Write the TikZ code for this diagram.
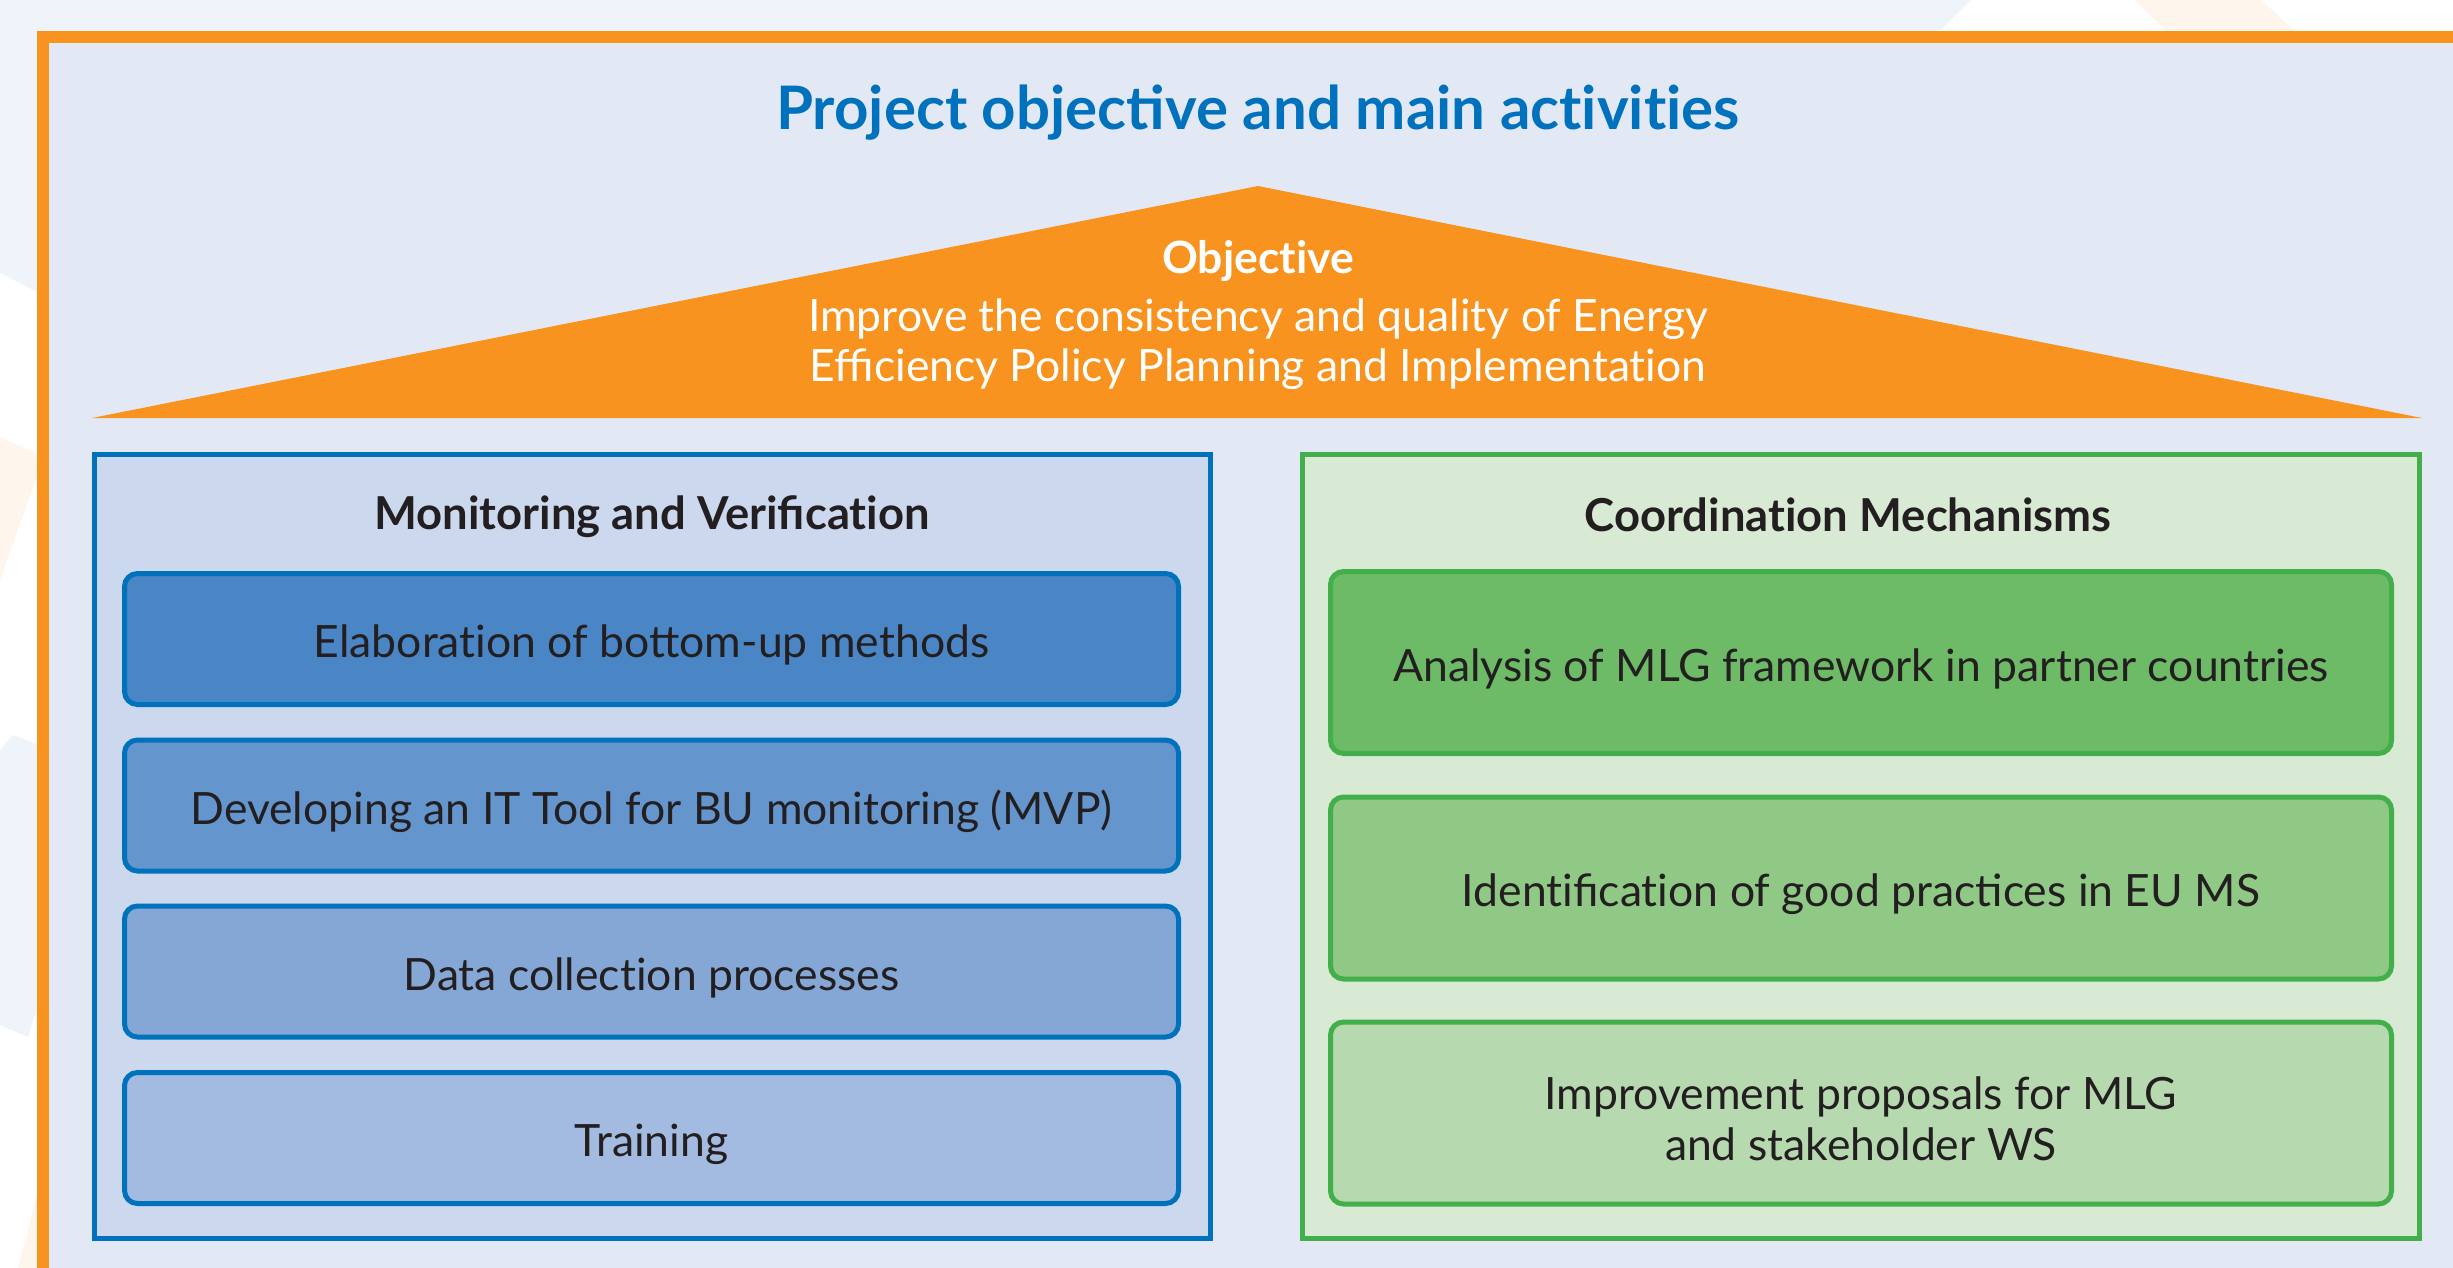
\documentclass[tikz,border=0pt]{standalone}
\usepackage{fontspec}
\setmainfont{Lato}
\newcommand{\tI}{t\kern0pt i}
\definecolor{outerbg}{HTML}{EFF3FA}
\definecolor{innerbg}{HTML}{E2E9F5}
\definecolor{faintor}{HTML}{FEF5EC}
\definecolor{framor}{HTML}{F7931E}
\definecolor{titleblue}{HTML}{0071BC}
\definecolor{mvline}{HTML}{0072BC}
\definecolor{mvfill}{HTML}{CBD8EE}
\definecolor{mvA}{HTML}{4A86C5}
\definecolor{mvB}{HTML}{6495CD}
\definecolor{mvC}{HTML}{84A7D5}
\definecolor{mvD}{HTML}{A3BBE0}
\definecolor{cmline}{HTML}{43AF4A}
\definecolor{cmfill}{HTML}{D8E9D4}
\definecolor{cmA}{HTML}{6DBA67}
\definecolor{cmB}{HTML}{90C886}
\definecolor{cmC}{HTML}{B7D9AF}
\definecolor{darktext}{HTML}{231F20}
\tikzset{
  panel/.style={draw, line width=5pt, inner sep=0pt, outer sep=0pt, rectangle},
  mvpanel/.style={panel, draw=mvline, fill=mvfill, minimum width=1116pt, minimum height=784pt},
  cmpanel/.style={panel, draw=cmline, fill=cmfill, minimum width=1117pt, minimum height=784pt},
  actbox/.style={draw, line width=5pt, rounded corners=13pt, inner sep=0pt, outer sep=0pt,
    text=darktext, align=center, font=\fontsize{44.5}{54}\selectfont},
  mvbox/.style={actbox, draw=mvline, minimum width=1054pt, minimum height=131pt},
  cmbox/.style={actbox, draw=cmline, minimum width=1061pt, minimum height=182pt},
  boxtext/.style={text=darktext, align=center, inner sep=0pt, font=\fontsize{44.5}{51}\selectfont},
  paneltitle/.style={text=darktext, font=\fontsize{45.4}{54}\selectfont\bfseries, inner sep=0pt},
  maintitle/.style={text=titleblue, font=\fontsize{60}{70}\selectfont\bfseries, inner sep=0pt},
  rooftext/.style={text=white, align=center, font=\fontsize{44.5}{50}\selectfont, inner sep=0pt}
}
\begin{document}
\begin{tikzpicture}[x=1pt,y=-1pt]
\useasboundingbox (0,0) rectangle (2453,1268);
\clip (0,0) rectangle (2453,1268);
% background and decorations
\fill[outerbg] (0,0) rectangle (2453,1268);
\fill[white] (1971,0) -- (2453,0) -- (2453,31) -- (1940,31) -- cycle;
\fill[faintor] (2135,0) -- (2261,0) -- (2295,31) -- (2166,31) -- cycle;
\fill[white] (0,273) -- (37,292) -- (37,1268) -- (0,1268) -- cycle;
\fill[faintor] (0,437) -- (37,454) -- (37,476) -- (0,580) -- cycle;
\fill[outerbg] (13,735) -- (37,744) -- (37,1008) -- (28,1037) -- (0,1025) -- (0,750) -- cycle;
\fill[faintor] (37,1195) -- (37,1268) -- (18,1268) -- cycle;
% orange frame
\fill[framor] (37,31) rectangle (2470,1290);
\fill[innerbg] (49,43) rectangle (2470,1290);
% title
\node[maintitle] (title) at (1258,113) {Project objective and main ac\tI{}vi\tI{}es};
% roof
\fill[framor] (92,418) -- (1258,186) -- (2422,418) -- cycle;
\node[rooftext, font=\fontsize{44.5}{50}\selectfont\bfseries] (obj) at (1258,261) {Objec\tI{}ve};
\node[rooftext] (objtext) at (1258,344) {Improve the consistency and quality of Energy\\Efficiency Policy Planning and Implementa\tI{}on};
% panels
\node[mvpanel] (mv) at (652,846.5) {};
\node[cmpanel] (cm) at (1861,846.5) {};
\node[paneltitle] (mvtitle) at (652,517) {Monitoring and Verifica\tI{}on};
\node[paneltitle] (cmtitle) at (1848,515) {Coordina\tI{}on Mechanisms};
% left boxes
\node[mvbox, fill=mvA] (mv1) at (651.5,639) {};
\node[mvbox, fill=mvB] (mv2) at (651.5,805.5) {};
\node[mvbox, fill=mvC] (mv3) at (651.5,971.5) {};
\node[mvbox, fill=mvD] (mv4) at (651.5,1138) {};
\node[boxtext] (mv1t) at (651.5,645) {Elabora\tI{}on of bottom-up methods};
\node[boxtext] (mv2t) at (651.5,811.5) {Developing an IT Tool for BU monitoring (MVP)};
\node[boxtext] (mv3t) at (651.5,977.5) {Data collec\tI{}on processes};
\node[boxtext] (mv4t) at (651.5,1144) {Training};
% right boxes
\node[cmbox, fill=cmA] (cm1) at (1861,662.5) {};
\node[cmbox, fill=cmB] (cm2) at (1861,888) {};
\node[cmbox, fill=cmC] (cm3) at (1861,1113) {};
\node[boxtext] (cm1t) at (1861,668.5) {Analysis of MLG framework in partner countries};
\node[boxtext] (cm2t) at (1861,894) {Iden\tI{}fica\tI{}on of good practices in EU MS};
\node[boxtext] (cm3t) at (1861,1119) {Improvement proposals for MLG\\and stakeholder WS};
\end{tikzpicture}
\end{document}
